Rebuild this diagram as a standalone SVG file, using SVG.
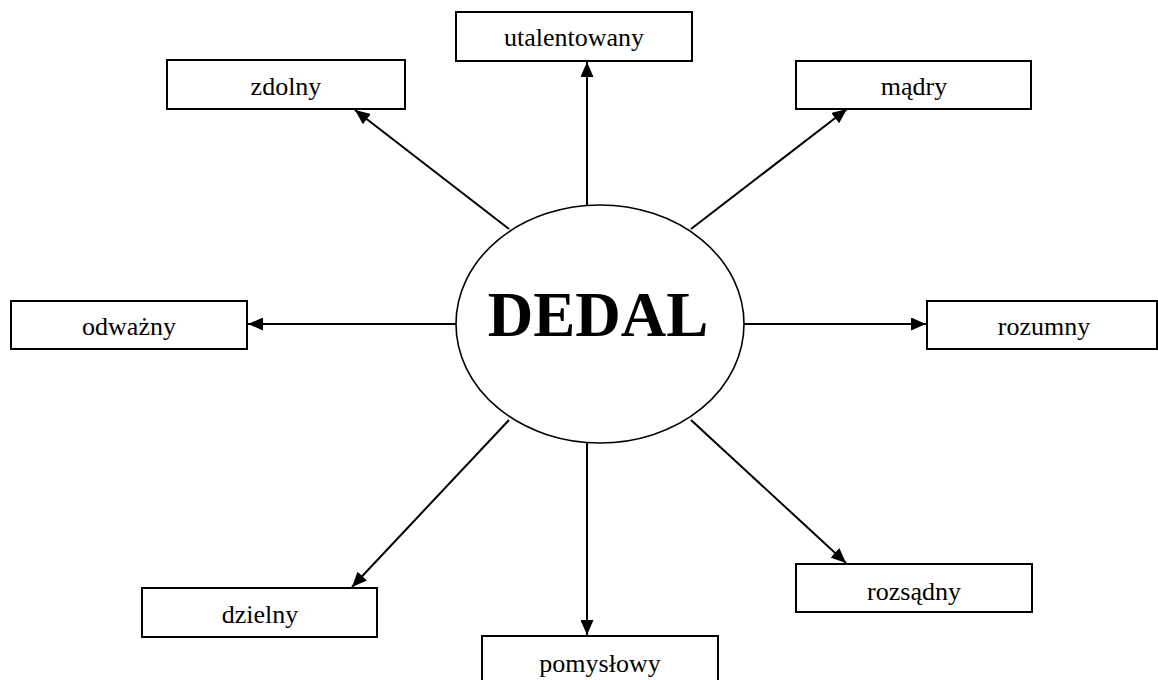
<svg xmlns="http://www.w3.org/2000/svg" width="1158" height="680" viewBox="0 0 1158 680">
<style>
.box{fill:#fff;stroke:#000;stroke-width:2}
.lbl{font-family:"Liberation Serif","Times New Roman",serif;font-size:26px;fill:#000;text-anchor:middle}
.conn{stroke:#000;stroke-width:2;fill:none;marker-end:url(#arr)}
</style>
<defs>
<marker id="arr" markerUnits="userSpaceOnUse" markerWidth="15" markerHeight="13" refX="15" refY="6.5" orient="auto">
<path d="M0,0 L15,6.5 L0,13 z" fill="#000"/>
</marker>
</defs>
<rect width="1158" height="680" fill="#fff"/>
<g id="connectors">
<line class="conn" x1="587" y1="205" x2="587" y2="62"/>
<line class="conn" x1="509" y1="229" x2="355" y2="110"/>
<line class="conn" x1="691" y1="229" x2="847" y2="109"/>
<line class="conn" x1="456" y1="324" x2="248" y2="324"/>
<line class="conn" x1="744" y1="324" x2="926" y2="324"/>
<line class="conn" x1="509" y1="420" x2="352" y2="587"/>
<line class="conn" x1="691" y1="420" x2="846" y2="563"/>
<line class="conn" x1="587" y1="443" x2="587" y2="635"/>
</g>
<g id="center">
<ellipse cx="600" cy="324" rx="144" ry="119" fill="#fff" stroke="#000" stroke-width="1.6"/>
<text x="598" y="336" font-family="'Liberation Serif','Times New Roman',serif" font-size="63" font-weight="bold" text-anchor="middle">DEDAL</text>
</g>
<g id="utalentowany"><rect class="box" x="456" y="12" width="236" height="49"/><text class="lbl" x="574" y="46">utalentowany</text></g>
<g id="zdolny"><rect class="box" x="167" y="60" width="238" height="49"/><text class="lbl" x="286" y="95">zdolny</text></g>
<g id="madry"><rect class="box" x="796" y="61" width="235" height="48"/><text class="lbl" x="914" y="95">mądry</text></g>
<g id="odwazny"><rect class="box" x="11" y="301" width="236" height="48"/><text class="lbl" x="129" y="335">odważny</text></g>
<g id="rozumny"><rect class="box" x="927" y="301" width="230" height="48"/><text class="lbl" x="1044" y="335">rozumny</text></g>
<g id="dzielny"><rect class="box" x="142" y="588" width="235" height="49"/><text class="lbl" x="260" y="623">dzielny</text></g>
<g id="rozsadny"><rect class="box" x="796" y="564" width="236" height="48"/><text class="lbl" x="914" y="600">rozsądny</text></g>
<g id="pomyslowy"><rect class="box" x="482" y="636" width="236" height="49"/><text class="lbl" x="600" y="672">pomysłowy</text></g>
</svg>
